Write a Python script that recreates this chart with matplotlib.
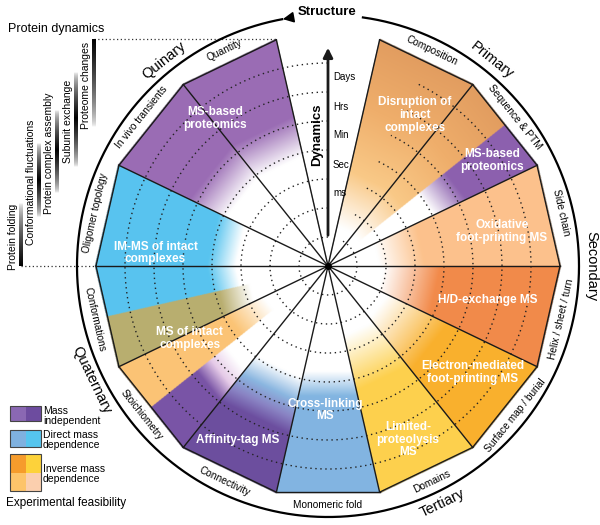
import numpy as np
import matplotlib
matplotlib.use('Agg')
import matplotlib.pyplot as plt
from matplotlib.colors import to_rgb
from matplotlib.patches import Rectangle

plt.rcParams['font.family'] = ['Liberation Sans', 'DejaVu Sans']

# ---- chart data ----
time_labels = ['ms', 'Sec', 'Min', 'Hrs', 'Days']

# one label per wedge, counter-clockwise from 3 o'clock ('' = empty wedge)
wedge_labels = ['Side chain', 'Sequence & PTM', 'Composition', '', 'Quantity',
                'In vivo transients', 'Oligomer topology', 'Conformations',
                'Stoichiometry', 'Connectivity', 'Monomeric fold', 'Domains',
                'Surface map / burial', 'Helix / sheet / turn']

level_names = ['Primary', 'Secondary', 'Tertiary', 'Quaternary', 'Quinary']
level_pos = [4, 0, 23, 16, 10]          # in half-wedges

# method fills: span in half-wedges, colour stops (distance from centre, colour)
fill_span = [(0, 2), (2, 3), (3, 6), (8, 12), (12, 15), (15, 16), (16, 17),
             (17, 18), (18, 20), (20, 22), (22, 24), (24, 26), (26, 28)]
fill_stops = [
    [(50, '#ffffff'), (95, '#fcc28c')],
    [(115, '#ffffff'), (150, '#8c61ae')],
    [(40, '#ffffff'), (95, '#f9c987'), (160, '#efae6b'), (226, '#e29d60')],
    [(110, '#ffffff'), (150, '#9a6cb4')],
    [(90, '#ffffff'), (118, '#58c4ef')],
    [(80, '#ffffff'), (112, '#b9ae70')],
    [(70, '#ffffff'), (110, '#fbc476')],
    [(130, '#ffffff'), (150, '#e6cbe8'), (168, '#7a55a6')],
    [(112, '#ffffff'), (135, '#8ab6e0'), (152, '#8a84c4'), (168, '#6c4e9f')],
    [(105, '#ffffff'), (130, '#82b5e1')],
    [(70, '#ffffff'), (125, '#fdd04d')],
    [(65, '#ffffff'), (130, '#f9b02d')],
    [(55, '#ffffff'), (110, '#f28a4a')],
]

method_names = ['Oxidative\nfoot-printing MS', 'MS-based\nproteomics',
                'Disruption of\nintact\ncomplexes', 'MS-based\nproteomics',
                'IM-MS of intact\ncomplexes', 'MS of intact\ncomplexes',
                'Affinity-tag MS', 'Cross-linking\nMS', 'Limited-\nproteolysis\nMS',
                'Electron-mediated\nfoot-printing MS', 'H/D-exchange MS']
method_r = [177, 195, 174, 186, 173, 156, 196, 144, 191, 180, 163]
method_ang = [11.1, 32.9, 60, 127.4, 175.7, 207.6, 242.4, 268.8, 294.7, 323.6, 347.9]

dyn_names = ['Protein folding', 'Conformational fluctuations',
             'Protein complex assembly', 'Subunit exchange', 'Proteome changes']
dyn_top = [203, 143, 110, 72, 39]
dyn_peak = [266, 180, 150, 118, 39]
dyn_bottom = [266, 217, 193, 167, 127]

legend_names = ['Mass\nindependent', 'Direct mass\ndependence', 'Inverse mass\ndependence']
legend_colors = [['#8a68b3', '#6d4c9f'], ['#7fb1df', '#55c5ee'],
                 ['#f69c2c', '#fdd23a', '#fdc46a', '#fbcfae']]

# ---- geometry ----
W, H = 600, 525
cx, cy = 328, 266
r_vert = 232
r_circle = 251
ring_step = 29
n_wedges = 14
hw = 180.0 / n_wedges
apothem = r_vert * np.cos(np.radians(hw))


def pol(r, deg):
    a = np.radians(deg)
    return cx + r * np.cos(a), cy - r * np.sin(a)


fig = plt.figure(figsize=(6, 5.25), dpi=100)
ax = fig.add_axes([0, 0, 1, 1])

# gradient fills
s = 2
xs = (np.arange(W * s) + 0.5) / s
ys = (np.arange(H * s) + 0.5) / s
X, Y = np.meshgrid(xs, ys)
dx, dy = X - cx, cy - Y
rr = np.hypot(dx, dy)
th = np.degrees(np.arctan2(dy, dx)) % 360
hpos = th / hw
wmid = (np.floor(th / (2 * hw)) * 2 + 1) * hw
dd = rr * np.cos(np.radians(th - wmid))
img = np.zeros((H * s, W * s, 4))
for (h0, h1), stops in zip(fill_span, fill_stops):
    m = (hpos >= h0) & (hpos < h1) & (dd <= apothem + 1)
    ds = [p[0] for p in stops]
    cols = np.array([to_rgb(p[1]) for p in stops])
    for c in range(3):
        ch = img[..., c]
        ch[m] = np.interp(dd[m], ds, cols[:, c])
    img[..., 3][m] = 1
ax.imshow(img, extent=(0, W, H, 0), zorder=1, interpolation='bilinear')

# dotted time rings (not in the top wedge)
t = np.radians(np.linspace(7 * hw, 360 + 5 * hw, 600))
for k in range(1, 8):
    ax.plot(cx + k * ring_step * np.cos(t), cy - k * ring_step * np.sin(t),
            color='#222222', lw=1.0, ls=(0, (1, 2.6)), zorder=2)

# spokes and outer edges
for k in range(n_wedges):
    a0 = k * 2 * hw
    x0, y0 = pol(r_vert, a0)
    ax.plot([cx, x0], [cy, y0], color='#1a1a1a', lw=1.0, zorder=3)
    if wedge_labels[k]:
        x1, y1 = pol(r_vert, a0 + 2 * hw)
        ax.plot([x0, x1], [y0, y1], color='#1a1a1a', lw=1.0, zorder=3)
ax.plot(cx, cy, 'o', color='k', ms=4, zorder=4)

# outer circle with arrow
tc = np.radians(np.linspace(82, -259.5, 800))
ax.plot(cx + r_circle * np.cos(tc), cy - r_circle * np.sin(tc), color='k', lw=1.6, zorder=3)
ax.annotate('', xy=pol(r_circle, 101), xytext=pol(r_circle, 99),
            arrowprops=dict(arrowstyle='-|>', color='k', lw=1.2, mutation_scale=16), zorder=4)
ax.text(cx - 1, 12, 'Structure', ha='center', va='center', fontsize=9.5, fontweight='bold')

# dynamics arrow
ax.annotate('', xy=(cx, cy - 221), xytext=(cx, cy - 28),
            arrowprops=dict(arrowstyle='-|>', color='#1a1a1a', lw=2.0, mutation_scale=14), zorder=4)
ax.text(cx - 11, 135, 'Dynamics', rotation=90, ha='center', va='center',
        fontsize=9.5, fontweight='bold')
for k, lab in enumerate(time_labels):
    ax.text(cx + 5, cy - ring_step * (k + 2.5), lab, ha='left', va='center', fontsize=7)

# wedge labels
for k, lab in enumerate(wedge_labels):
    if not lab:
        continue
    a = k * 2 * hw + hw
    x, y = pol(239, a)
    rot = a - 90 if np.sin(np.radians(a)) > 0 else a + 90
    ax.text(x, y, lab, rotation=rot, ha='center', va='center', fontsize=7.3,
            rotation_mode='anchor')

# level labels
for lab, p in zip(level_names, level_pos):
    a = p * hw
    x, y = pol(263, a)
    sa = np.sin(np.radians(a))
    rot = a - 90 if sa >= -0.01 else a + 90
    ax.text(x, y, lab, rotation=rot, ha='center', va='center', fontsize=10.5,
            rotation_mode='anchor')

# method names
for lab, r, a in zip(method_names, method_r, method_ang):
    x, y = pol(r, a)
    ax.text(x, y, lab, ha='center', va='center', fontsize=8.5, fontweight='bold',
            color='white', zorder=5, linespacing=1.1)

# protein dynamics bars
ax.text(8, 29, 'Protein dynamics', ha='left', va='center', fontsize=9)
bar_x = [21, 39, 57, 76, 94]
for k, name in enumerate(dyn_names):
    yy = np.linspace(dyn_top[k], dyn_bottom[k], 200)
    up = np.clip((yy - dyn_top[k]) / max(dyn_peak[k] - dyn_top[k], 1e-6), 0, 1)
    dn = np.clip((dyn_bottom[k] - yy) / max(dyn_bottom[k] - dyn_peak[k], 1e-6), 0, 1)
    alpha = np.where(yy <= dyn_peak[k], up, dn)
    if dyn_peak[k] == dyn_top[k]:
        alpha = dn
    if dyn_peak[k] == dyn_bottom[k]:
        alpha = up
    col = np.zeros((200, 1, 4))
    col[:, 0, 3] = alpha ** 0.6
    ax.imshow(col, extent=(bar_x[k] - 1.8, bar_x[k] + 1.8, dyn_bottom[k], dyn_top[k]),
              zorder=3, interpolation='bilinear')
    ax.text(bar_x[k] - 8, (dyn_top[k] + dyn_bottom[k]) / 2 + 2, name, rotation=90,
            ha='center', va='center', fontsize=7.5)
ax.plot([bar_x[-1], pol(r_vert, 6 * hw + 2 * hw)[0]], [39, 39], color='#333333',
        lw=0.9, ls=(0, (1, 2)), zorder=2)
ax.plot([bar_x[0], cx - r_vert], [266, 266], color='#333333', lw=0.9, ls=(0, (1, 2)), zorder=2)

# legend
box_y = [406, 430, 454]
box_h = [15, 17, 37]
text_y = [416, 440, 474]
for k, name in enumerate(legend_names):
    cols = legend_colors[k]
    y0 = box_y[k]
    if len(cols) == 2:
        ax.add_patch(Rectangle((10, y0), 15.5, box_h[k], fc=cols[0], ec='none', zorder=3))
        ax.add_patch(Rectangle((25.5, y0), 15.5, box_h[k], fc=cols[1], ec='none', zorder=3))
    else:
        hh = box_h[k] / 2
        ax.add_patch(Rectangle((10, y0), 15.5, hh, fc=cols[0], ec='none', zorder=3))
        ax.add_patch(Rectangle((25.5, y0), 15.5, hh, fc=cols[1], ec='none', zorder=3))
        ax.add_patch(Rectangle((10, y0 + hh), 15.5, hh, fc=cols[2], ec='none', zorder=3))
        ax.add_patch(Rectangle((25.5, y0 + hh), 15.5, hh, fc=cols[3], ec='none', zorder=3))
    ax.add_patch(Rectangle((10, y0), 31, box_h[k], fc='none', ec='#444444', lw=0.8, zorder=4))
    ax.text(43, text_y[k], name, ha='left', va='center', fontsize=7.5, linespacing=1.0)
ax.text(6, 503, 'Experimental feasibility', ha='left', va='center', fontsize=8.5)

ax.set_xlim(0, W)
ax.set_ylim(H, 0)
ax.axis('off')
fig.savefig('out.png', dpi=100)
